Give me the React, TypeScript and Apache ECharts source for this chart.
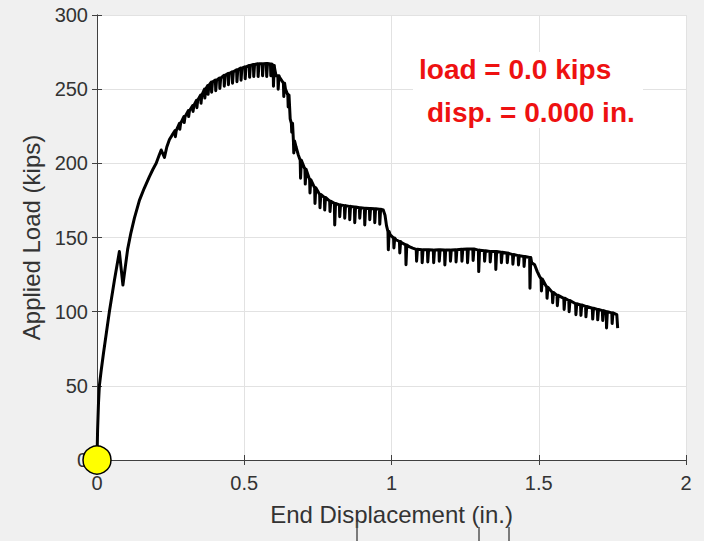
import React, { useEffect, useRef } from "react";
import * as echarts from "echarts";

// Envelope of the load-displacement curve (displacement in., load kips)
const envelope: [number, number][] = [
  [0, 0], [0.002, 20], [0.005, 38], [0.008, 50], [0.014, 60], [0.022, 72], [0.032, 86],
  [0.042, 100], [0.059, 121], [0.076, 140.5], [0.082, 129], [0.088, 118], [0.096, 130],
  [0.104, 142], [0.115, 153], [0.127, 163], [0.144, 175], [0.16, 183], [0.178, 191], [0.19, 196],
  [0.201, 200], [0.212, 206], [0.218, 209], [0.229, 204], [0.237, 211], [0.246, 216],
  [0.255, 219], [0.38, 253.5], [0.596, 266.5],
  [0.603, 264], [0.608, 259], [0.62, 258], [0.63, 255], [0.64, 250], [0.648, 246],
  [0.652, 238], [0.656, 230], [0.66, 227], [0.663, 220], [0.667, 215], [0.676, 211],
  [0.683, 206], [0.69, 202], [0.972, 168.5], [0.978, 165], [0.983, 158], [0.988, 154],
  [0.995, 152], [1.015, 148.5], [1.035, 146.5], [1.06, 143.8], [1.072, 142.8],
  [1.476, 133], [1.486, 131.6], [1.495, 127], [1.503, 123.7],
  [1.765, 98], [1.768, 88.9],
];

// Unloading drops: [displacement, load before drop, load at bottom of drop]
const teethEarly: [number, number, number][] = [
  [0.265, 222, 218], [0.28, 227, 223], [0.295, 231.5, 227.5], [0.31, 235.5, 231.5],
  [0.325, 239, 235], [0.338, 242.5, 237.5], [0.352, 246, 240.5], [0.365, 250, 244],
  [0.376, 252.5, 246.5],
];
const teethPeak: [number, number, number][] = [
  [0.388, 254.8, 248], [0.402, 256.1, 249], [0.416, 257.5, 250.5], [0.431, 259.3, 252],
  [0.445, 260.6, 253], [0.459, 261.7, 254], [0.474, 263, 255], [0.488, 264.2, 256],
  [0.502, 265.1, 257], [0.517, 266, 258], [0.531, 266.6, 258.5], [0.546, 267.1, 258.5],
  [0.561, 267.2, 259], [0.575, 267.3, 258.5], [0.589, 267, 259],
];
const teethDescent: [number, number, number][] = [
  [0.598, 266, 252], [0.614, 259, 250], [0.633, 254, 245], [0.648, 246, 238],
  [0.66, 227, 221], [0.667, 215, 207], [0.69, 202, 190], [0.706, 196, 186],
  [0.722, 189, 180], [0.739, 183.5, 173], [0.756, 179, 170], [0.772, 177, 168.5],
  [0.79, 174.5, 167.5], [0.806, 173, 158.5], [0.823, 172, 164], [0.84, 171.5, 163],
  [0.857, 171, 162], [0.874, 170.5, 160], [0.891, 170, 163], [0.908, 169.8, 158.5],
  [0.925, 169.6, 162], [0.942, 169.4, 160], [0.959, 169, 159],
];
const teethPlateau: [number, number, number][] = [
  [0.988, 154, 141.7], [1.007, 149.6, 143], [1.027, 147.3, 139.6], [1.048, 145, 131.6],
  [1.084, 142, 134], [1.103, 141.7, 133], [1.122, 141.7, 133.5], [1.142, 141.5, 133],
  [1.161, 141.7, 134], [1.18, 141.5, 131.5], [1.199, 141.5, 134], [1.218, 141.7, 133.5],
  [1.238, 142, 134], [1.257, 142.3, 133], [1.276, 142.3, 134.5], [1.295, 141.5, 127],
  [1.315, 141, 134], [1.334, 140.5, 133.5], [1.353, 140.5, 128.5], [1.372, 140, 133],
  [1.392, 139.5, 133], [1.411, 138.5, 132], [1.43, 137.8, 131.5], [1.449, 137.2, 130.5],
  [1.469, 136.5, 115.8],
];
const teethTail: [number, number, number][] = [
  [1.508, 122, 114], [1.527, 116.5, 109], [1.546, 113, 106], [1.562, 111, 104],
  [1.585, 109, 101.5], [1.602, 107.5, 100], [1.625, 105.3, 98], [1.642, 104.5, 97.5],
  [1.659, 103.5, 96.5], [1.682, 102.3, 95], [1.699, 101.5, 94.5], [1.716, 100.7, 94],
  [1.729, 100, 89], [1.748, 99.2, 92],
];

const startPoint: [number, number][] = [[0, 0]];
const xTicks = { min: 0, max: 2, interval: 0.5 };
const yTicks = { min: 0, max: 300, interval: 50 };
const annotation = ["load = 0.0 kips", "disp. = 0.000 in."];

const FONT = "'Liberation Sans', Arial, Helvetica, sans-serif";

function buildCurve(): [number, number][] {
  const teeth = [...teethEarly, ...teethPeak, ...teethDescent, ...teethPlateau, ...teethTail];
  const env = envelope.filter(
    ([ex]) => !teeth.some(([tx]) => ex >= tx - 0.0005 && ex <= tx + 0.0045)
  );
  const tp: [number, number][] = [];
  teeth.forEach(([x, t, b]) => {
    tp.push([x, t], [x + 0.0012, b], [x + 0.004, t]);
  });
  return [...env, ...tp].sort((a, b) => a[0] - b[0]);
}

export default function App() {
  const ref = useRef<HTMLDivElement>(null);
  useEffect(() => {
    document.body.style.margin = "0";
    const chart = echarts.init(ref.current!, undefined, { renderer: "svg" });
    const axisColor = "#404040";
    const textColor = "#333333";
    const baseX = {
      type: "value" as const,
      ...xTicks,
      axisLine: { show: true, lineStyle: { color: axisColor, width: 1 } },
      axisTick: { show: true, inside: true, length: 5, lineStyle: { color: axisColor } },
    };
    const baseY = {
      type: "value" as const,
      ...yTicks,
      axisLine: { show: true, lineStyle: { color: axisColor, width: 1 } },
      axisTick: { show: true, inside: true, length: 5, lineStyle: { color: axisColor } },
    };
    chart.setOption({
      animation: false,
      backgroundColor: "#f0f0f0",
      textStyle: { fontFamily: FONT },
      grid: {
        left: 97, right: 18, top: 15, bottom: 81,
        show: true, backgroundColor: "#ffffff", borderWidth: 0,
      },
      xAxis: [
        {
          ...baseX,
          position: "bottom",
          axisLabel: { fontSize: 20, color: textColor, margin: 13, fontFamily: FONT },
          splitLine: { show: true, lineStyle: { color: "#e2e2e2", width: 1 } },
          name: "End Displacement (in.)",
          nameLocation: "middle",
          nameGap: 42,
          nameTextStyle: { fontSize: 24, color: textColor, fontFamily: FONT },
        },
        { ...baseX, position: "top", axisLabel: { show: false }, splitLine: { show: false } },
      ],
      yAxis: [
        {
          ...baseY,
          position: "left",
          axisLabel: { fontSize: 20, color: textColor, margin: 9, fontFamily: FONT },
          splitLine: { show: true, lineStyle: { color: "#e2e2e2", width: 1 } },
          name: "Applied Load (kips)",
          nameLocation: "middle",
          nameGap: 50,
          nameTextStyle: { fontSize: 24, color: textColor, fontFamily: FONT },
        },
        { ...baseY, position: "right", axisLabel: { show: false }, splitLine: { show: false } },
      ],
      series: [
        {
          type: "line",
          data: buildCurve(),
          showSymbol: false,
          symbol: "none",
          lineStyle: { color: "#000000", width: 3, join: "round" },
          z: 3,
        },
        {
          type: "scatter",
          data: startPoint,
          symbolSize: 28,
          clip: false,
          itemStyle: { color: "#ffff00", borderColor: "#000000", borderWidth: 1.5, opacity: 1 },
          z: 5,
        },
      ],
      graphic: [
        { type: "rect", z: 100, shape: { x: 413, y: 52, width: 230, height: 76 }, style: { fill: "#ffffff" } },
        {
          type: "text", z: 101, x: 419, y: 69,
          style: { text: annotation[0], fill: "#ee1111", font: `bold 28px ${FONT}`, textVerticalAlign: "middle", verticalAlign: "middle" },
        },
        {
          type: "text", z: 101, x: 427, y: 112,
          style: { text: annotation[1], fill: "#ee1111", font: `bold 28px ${FONT}`, textVerticalAlign: "middle", verticalAlign: "middle" },
        },
        { type: "line", z: 100, shape: { x1: 357, y1: 522, x2: 357, y2: 541 }, style: { stroke: "#555", lineWidth: 1.5 } },
        { type: "line", z: 100, shape: { x1: 479, y1: 527, x2: 479, y2: 541 }, style: { stroke: "#555", lineWidth: 1.5 } },
        { type: "line", z: 100, shape: { x1: 509, y1: 527, x2: 509, y2: 541 }, style: { stroke: "#555", lineWidth: 1.5 } },
      ],
    });
    return () => chart.dispose();
  }, []);
  return <div ref={ref} style={{ width: 704, height: 541 }} />;
}
